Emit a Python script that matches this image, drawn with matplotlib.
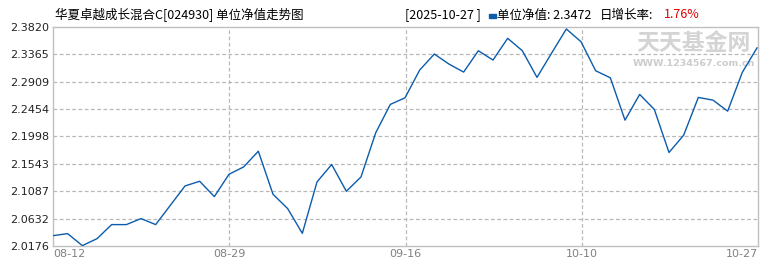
"""Unit NAV trend chart for fund 024930 (C share), 08-12 .. 10-27."""
import numpy as np
import matplotlib
matplotlib.use("Agg")
import matplotlib.pyplot as plt
from matplotlib.patches import Rectangle

plt.rcParams["font.family"] = ["Noto Sans CJK SC", "DejaVu Sans"]

# daily unit NAV, one value per trading day
nav = [2.0348, 2.0382, 2.0182, 2.0298, 2.0532, 2.0532, 2.0632, 2.0532, 2.0853,
       2.1175, 2.1253, 2.0998, 2.1370, 2.1492, 2.1753, 2.1037, 2.0798, 2.0387,
       2.1242, 2.1532, 2.1087, 2.1325, 2.2058, 2.2532, 2.2642, 2.3103, 2.3370,
       2.3203, 2.3070, 2.3425, 2.3270, 2.3632, 2.3425, 2.2982, 2.3387, 2.3787,
       2.3575, 2.3092, 2.2975, 2.2270, 2.2698, 2.2448, 2.1732, 2.2020, 2.2648,
       2.2603, 2.2420, 2.3066, 2.3472]
date_labels = ["08-12", "08-29", "09-16", "10-10", "10-27"]
y_ticks = [2.0176, 2.0632, 2.1087, 2.1543, 2.1998, 2.2454, 2.2909, 2.3365, 2.3820]
title = "华夏卓越成长混合C[024930] 单位净值走势图"
last_date = "[2025-10-27 ]"
last_nav = "2.3472"
last_growth = "1.76%"

W, H = 770, 270
fig = plt.figure(figsize=(W / 100, H / 100), dpi=100)
fig.patch.set_facecolor("white")
# plot frame: x 53..758, y 27..246 (pixels from top)
ax = fig.add_axes([53 / W, (H - 246) / H, (758 - 53) / W, (246 - 27) / H])

x = np.arange(len(nav))
xmax = (len(nav) - 1) * 705 / 704
ax.set_xlim(0, xmax)
ax.set_ylim(y_ticks[0], y_ticks[-1])

grid_kw = dict(color="#b8b8b8", lw=0.9, ls=(0, (3, 2)), zorder=1)
for v in y_ticks[1:-1]:
    ax.axhline(v, **grid_kw)
xt = np.linspace(0, xmax, len(date_labels))
for v in xt[1:-1]:
    ax.axvline(v, **grid_kw)

ax.plot(x, nav, color="#0b5cad", lw=1.0, zorder=3)

ax.set_yticks(y_ticks)
ax.set_yticklabels([f"{v:.4f}" for v in y_ticks], fontsize=8, color="#222222",
                   family="DejaVu Sans")
ax.set_xticks(xt)
ax.set_xticklabels(date_labels, fontsize=8, color="#808080", family="DejaVu Sans")
labels = ax.get_xticklabels()
labels[0].set_ha("left")
labels[-1].set_ha("right")
ax.tick_params(length=0, pad=3)
ax.tick_params(axis="x", pad=2)
for s in ax.spines.values():
    s.set_color("#c0c0c0")
    s.set_linewidth(1.0)

# watermark
ax.text(0.909, 0.925, "天天基金网", transform=ax.transAxes, fontsize=16.5,
        color="#d4d4d4", ha="center", va="center", weight="bold", zorder=2)
ax.text(0.909, 0.835, "WWW.1234567.com.cn", transform=ax.transAxes,
        fontsize=6.8, color="#cccccc", ha="center", va="center",
        family="DejaVu Sans", weight="bold", zorder=2)

# header texts
ty = (H - 15) / H
fig.text(55 / W, ty, title, fontsize=9, va="center", ha="left")
fig.text(405 / W, ty, last_date, fontsize=9, va="center", ha="left")
fig.patches.append(Rectangle((489 / W, (H - 17.5) / H), 7 / W, 3.5 / H,
                             transform=fig.transFigure, color="#0b5cad"))
fig.text(497 / W, ty, "单位净值: " + last_nav, fontsize=9, va="center", ha="left")
fig.text(600 / W, ty, "日增长率:", fontsize=9, va="center", ha="left")
fig.text(664 / W, ty, last_growth, fontsize=9, va="center", ha="left", color="#e00000")

fig.savefig("out.png", dpi=100)
